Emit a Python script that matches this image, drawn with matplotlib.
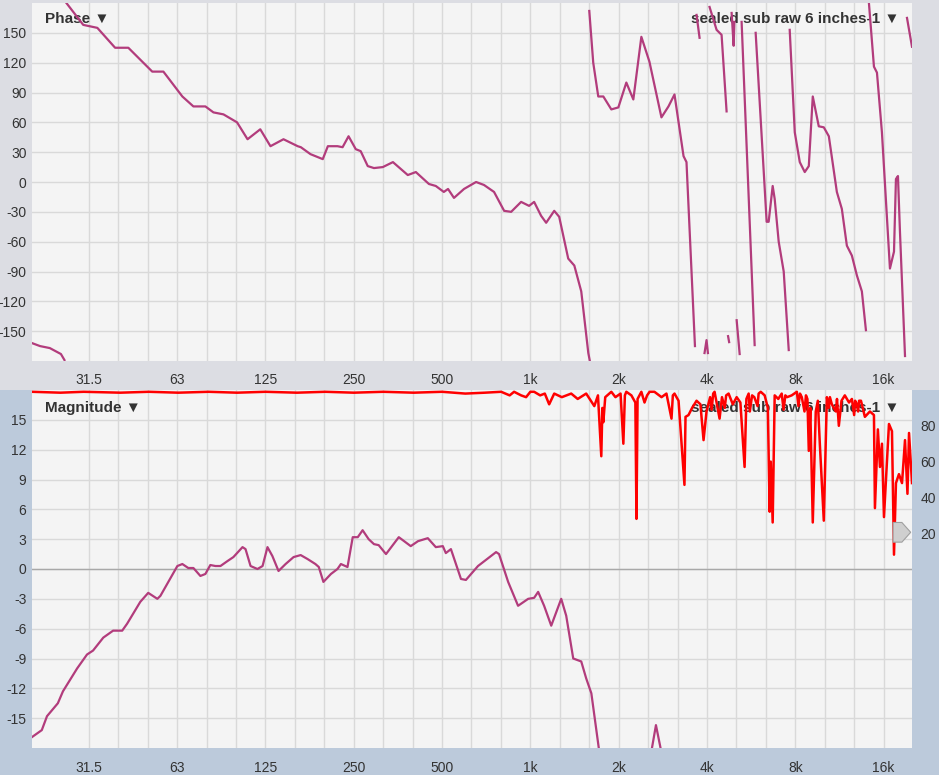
import numpy as np
import matplotlib
matplotlib.use('Agg')
import matplotlib.pyplot as plt
from matplotlib.patches import Rectangle, Polygon
from matplotlib.transforms import blended_transform_factory

plt.rcParams['font.family'] = ['Liberation Sans', 'DejaVu Sans']
plt.rcParams['axes.unicode_minus'] = False

# Frecuencias y fase (None = corte de la curva al envolver)
phase_freq = [20, 21.3, 23, 25.1, 25.8, None,
              26.2, 29.9, 33.4, 38.4, 42.6, 51.4, 56.1, 65.1, 71, 78, 83.1, 89.9, 100, 108.6,
              120, 130, 144, 161, 165, 178, 196, 204, 220, 229, 240, 254, 264, 279, 293, 314,
              340, 382, 407, 451, 476, 507, 524, 549, 594, 653, 695, 752, 814, 860, 930, 990,
              1030, 1088, 1132, 1206, 1254, 1346, 1412, 1491, 1576, 1595, None,
              1588, 1638, 1704, 1773, 1888, 1995, 2124, 2244, 2390, 2546, 2798, 2957, 3100,
              3328, 3406, 3640, None,
              3686, 3774, None,
              3924, 3986, 4030, None,
              4082, 4314, 4486, 4666, None,
              4720, 4760, None,
              4854, 4932, 4960, None,
              5050, 5170, None,
              5250, 5816, None,
              5862, 6390, 6492, 6700, 6806, 7024, 7306, 7600, None,
              7658, 7968, 8288, 8618, 8896, 9178, 9620, 10008, 10412, 11088, 11530, 11994,
              12476, 12978, 13494, 13930, None,
              14262, 14836, 15190, 15794, 16820, 17364, 17632, 17912, 18196, 18932, None,
              19230, 20000]
phase_deg = [-162, -165, -167, -173, -179, None,
             180, 158, 155, 135, 135, 111, 111, 86, 76, 76, 70, 68, 60, 43,
             53, 36, 43, 36, 35, 28, 23, 36, 36, 35, 46, 33, 31, 16, 14, 15,
             20, 7, 10, -2, -4, -10, -7, -16, -7, 0, -3, -10, -29, -30, -20, -24,
             -20, -34, -41, -29, -35, -77, -84, -110, -172, -180, None,
             172, 120, 86, 86, 73, 75, 100, 83, 146, 121, 65, 76, 88,
             26, 20, -165, None,
             168, 145, None,
             -172, -159, -172, None,
             176, 153, 148, 71, None,
             -155, -161, None,
             170, 137, 161, None,
             -139, -173, None,
             161, -164, None,
             150, -40, -40, -4, -17, -60, -90, -169, None,
             153, 50, 20, 10, 16, 86, 56, 55, 46, -10, -27, -64,
             -74, -94, -110, -149, None,
             180, 116, 110, 50, -87, -70, 3, 6, -50, -175, None,
             165, 136]

# Magnitud (dB)
mag_freq = [20, 21.6, 22.5, 24.5, 25.5, 28.5, 30.8, 32.3, 35.0, 37.8, 40.6, 42.2, 46.8, 49.8,
            53.5, 54.8, 62.6, 65.1, 68.2, 71, 75, 78, 81.1, 84.4, 87.8, 92.8, 97.2, 104.4,
            106.9, 111.2, 117.4, 122.2, 127, 132, 138.5, 146.4, 155.9, 164.8, 174, 185, 190,
            197, 209, 220, 226, 238, 248, 258, 268, 281, 293, 304, 322, 356, 391, 414, 447,
            476, 503, 515, 536, 580, 603, 663, 764, 782, 840, 908, 983, 1030, 1063, 1114,
            1178, 1274, 1325, 1400, 1491, 1550, 1614, 1720, None,
            2580, 2680, 2800]
mag_db = [-16.9, -16.2, -14.8, -13.5, -12.3, -10.0, -8.6, -8.2, -6.9, -6.2, -6.2, -5.5, -3.3, -2.4,
          -3.0, -2.7, 0.3, 0.5, 0.1, 0.1, -0.7, -0.5, 0.4, 0.3, 0.3, 0.8, 1.2, 2.2,
          2.0, 0.3, 0.0, 0.3, 2.2, 1.3, -0.2, 0.5, 1.2, 1.4, 1.0, 0.5, 0.2,
          -1.3, -0.5, 0.0, 0.5, 0.2, 3.2, 3.2, 3.9, 3.0, 2.5, 2.4, 1.5, 3.2, 2.3, 2.8, 3.1,
          2.2, 2.3, 1.6, 2.0, -1.0, -1.1, 0.3, 1.7, 1.5, -1.3, -3.7, -3.0, -2.9, -2.3, -3.7,
          -5.7, -3.0, -4.7, -9.0, -9.3, -11.0, -12.5, -18.5, None,
          -18.5, -15.7, -18.5]

# Coherencia (%)
coh_freq = [20, 25, 30, 40, 50, 63, 80, 100, 125, 160, 200, 250, 315, 400, 500, 600, 700, 795,
            850, 880, 930, 967, 1000, 1030, 1080, 1120, 1159, 1206, 1280, 1378, 1450, 1550,
            1652, 1700, 1745, 1760, 1773, 1800, 1888, 1950, 2030, 2075, 2100, 2124, 2210,
            2280, 2300, 2320, 2390, 2450, 2500, 2550, 2648, 2800, 2910, 3028, 3060, 3100,
            3200, 3352, 3380, 3460, 3560, 3686, 3800, 3894, 3986, 4100, 4150, 4200, 4246,
            4416, 4500, 4600, 4650, 4740, 4900, 5050, 5200, 5374, 5450, 5548, 5600, 5700,
            5800, 5950, 6000, 6100, 6292, 6450, 6544, 6600, 6700, 6806, 7000, 7192, 7300,
            7400, 7500, 7780, 8100, 8200, 8300, 8420, 8600, 8700, 8800, 8896, 9000, 9178,
            9396, 9550, 9700, 10008, 10252, 10400, 10500, 10660, 11000, 11100, 11262, 11500,
            11804, 12200, 12476, 12700, 12800, 12978, 13100, 13200, 13400, 13816, 14372,
            14836, 14950, 15300, 15552, 15800, 16050, 16692, 17090, 17364, 17632, 18052,
            18492, 18932, 19300, 19538, 20000]
coh_pct = [99, 98.5, 99, 98.5, 99, 98.5, 99, 98.5, 99, 98.5, 99, 98.5, 99, 98.5, 99, 98, 98.5, 99,
           97, 99, 97, 96, 99, 99, 97, 98, 92, 98, 96, 98, 95, 98,
           91, 97, 63, 90, 82, 96, 99, 96, 98, 70, 97, 99, 97,
           93, 28, 95, 99, 93, 97, 99, 99, 96, 98, 84, 97, 98,
           94, 47, 85, 86, 90, 94, 92, 72, 88, 96, 89, 98, 99,
           84, 96, 90, 97, 98, 92, 96, 93, 57, 95, 98, 88, 97,
           96, 91, 98, 99, 97, 90, 32, 60, 26, 97, 95, 98, 89,
           97, 96, 97, 99, 91, 98, 96, 88, 97, 95, 66, 90, 26,
           88, 94, 70, 27, 96, 90, 96, 92, 88, 95, 80, 94,
           97, 93, 95, 86, 94, 92, 88, 94, 94, 85, 88,
           86, 34, 78, 57, 70, 29, 81, 77, 8, 48, 53,
           48, 72, 42, 76, 48]

grid_freqs = [1000 * 2 ** (k / 3) for k in range(-15, 15)]
xtick_freqs = [1000 * 2 ** k for k in range(-5, 5)]
xtick_labels = ['31.5', '63', '125', '250', '500', '1k', '2k', '4k', '8k', '16k']
phase_ticks = list(range(-150, 151, 30))
mag_ticks = list(range(-15, 16, 3))
coh_ticks = [20, 40, 60, 80]

linea = '#b23c7c'
texto = '#333333'

fig = plt.figure(figsize=(9.39, 7.75), dpi=100, facecolor='#bccadb')
fig.patches.append(Rectangle((0, 1 - 390 / 775), 1, 390 / 775, transform=fig.transFigure,
                             facecolor='#dcdde3', edgecolor='none', zorder=-10))

ax_p = fig.add_axes([32 / 939, 1 - 361 / 775, 880 / 939, 358 / 775])
ax_m = fig.add_axes([32 / 939, 1 - 748 / 775, 880 / 939, 358 / 775])


def estilo(ax, yticks):
    ax.set_facecolor('#f4f4f4')
    ax.set_xscale('log')
    ax.set_xticks(grid_freqs, minor=True)
    ax.set_xticks(xtick_freqs)
    ax.set_xticklabels(xtick_labels)
    ax.xaxis.set_minor_formatter(matplotlib.ticker.NullFormatter())
    ax.set_xlim(20, 20000)
    ax.set_yticks(yticks)
    ax.grid(True, which='both', color='#d9d9d9', linewidth=1)
    ax.set_axisbelow(True)
    ax.tick_params(which='both', length=0, labelsize=10, colors=texto, pad=4)
    ax.tick_params(axis='x', pad=9)
    for s in ax.spines.values():
        s.set_visible(False)


estilo(ax_p, phase_ticks)
ax_p.set_ylim(-180, 180)
ax_p.plot(np.array(phase_freq, dtype=float), np.array(phase_deg, dtype=float),
          color=linea, lw=1.6, zorder=3, solid_joinstyle='round')
ax_p.text(0.015, 0.955, 'Phase ▼', transform=ax_p.transAxes, fontsize=11,
          fontweight='bold', color=texto, va='center', ha='left', zorder=1)
ax_p.text(0.986, 0.955, 'sealed sub raw 6 inches-1 ▼', transform=ax_p.transAxes,
          fontsize=11, fontweight='bold', color=texto, va='center', ha='right', zorder=1)

estilo(ax_m, mag_ticks)
ax_m.set_ylim(-18, 18)
ax_m.axhline(0, color='#a8a8a8', lw=1, zorder=2)
ax_m.plot(np.array(mag_freq, dtype=float), np.array(mag_db, dtype=float),
          color=linea, lw=1.6, zorder=3, solid_joinstyle='round')
ax_m.text(0.015, 0.95, 'Magnitude ▼', transform=ax_m.transAxes, fontsize=11,
          fontweight='bold', color=texto, va='center', ha='left', zorder=1)
ax_m.text(0.986, 0.95, 'sealed sub raw 6 inches-1 ▼', transform=ax_m.transAxes,
          fontsize=11, fontweight='bold', color=texto, va='center', ha='right', zorder=1)

ax_c = ax_m.twinx()
ax_c.set_ylim(-100, 100)
ax_c.set_yticks(coh_ticks)
ax_c.tick_params(length=0, labelsize=10, colors=texto, pad=6)
for s in ax_c.spines.values():
    s.set_visible(False)
ax_c.plot(coh_freq, coh_pct, color='#ff0000', lw=1.8, zorder=3)
tr = blended_transform_factory(ax_c.transAxes, ax_c.transData)
ax_c.add_patch(Polygon([(0.9785, 26), (0.9885, 26), (0.9985, 20.5), (0.9885, 15), (0.9785, 15)],
                       closed=True, transform=tr, facecolor='#cfcfcf', edgecolor='#a0a0a0',
                       lw=0.8, zorder=4))
ax_c.set_xlim(20, 20000)
ax_c.set_ylim(-100, 100)

fig.savefig('out.png', dpi=100, facecolor=fig.get_facecolor())
